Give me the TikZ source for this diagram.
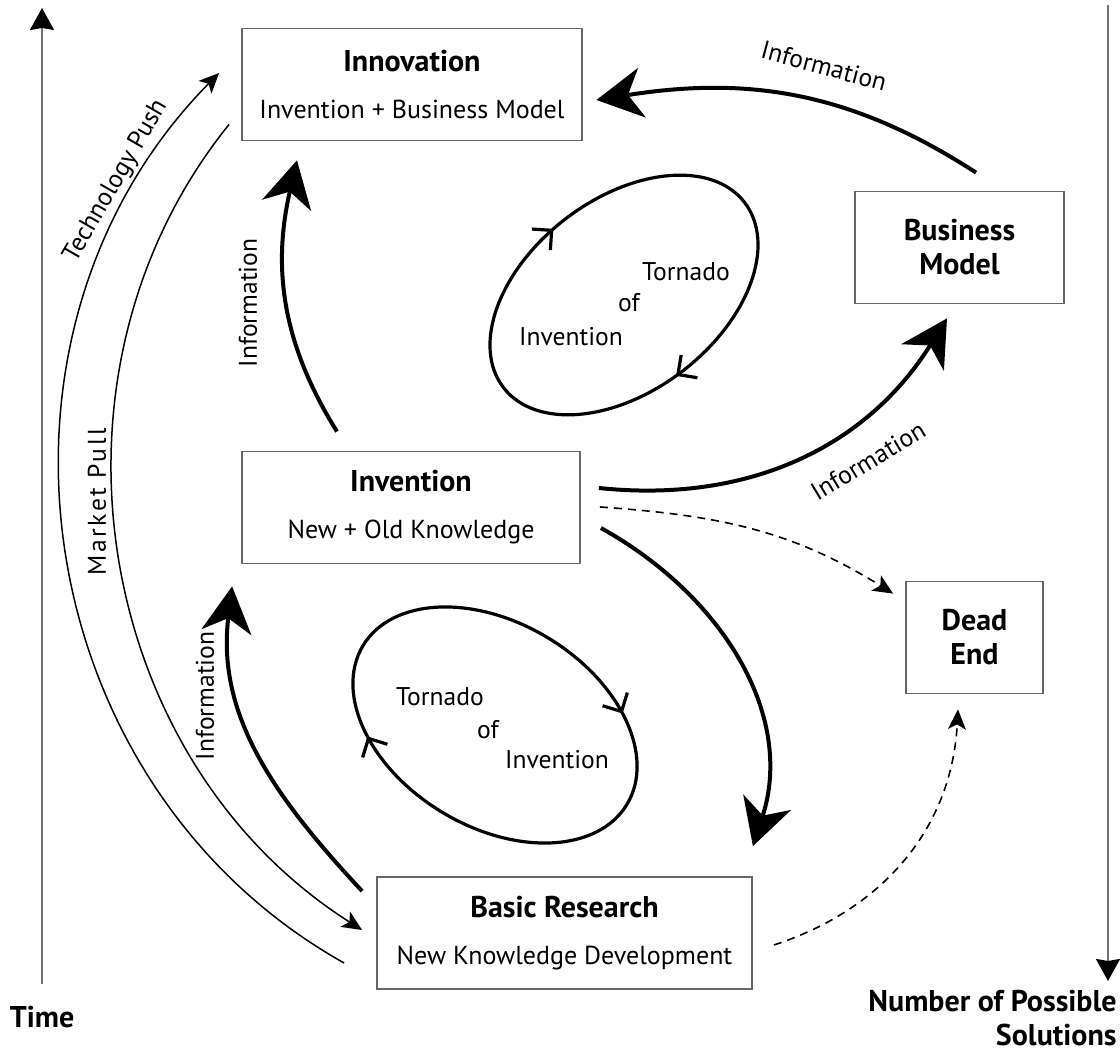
\documentclass[tikz,border=0pt]{standalone}
\usepackage{fontspec}
\setmainfont{PT Sans}
\usetikzlibrary{positioning,arrows.meta,calc,decorations.markings}

\begin{document}
\begin{tikzpicture}[
  x=0.5pt, y=0.5pt,
  every node/.style={font=\fontsize{12.8}{15}\selectfont, align=center, inner sep=0pt},
  stage/.style={draw=black!60, line width=0.9pt, fill=white, minimum height=56pt, font=\fontsize{13}{23.5}\selectfont},
  endbox/.style={draw=black!60, line width=0.9pt, fill=white, minimum height=56pt, font=\fontsize{15}{17}\selectfont\bfseries},
  heading/.style={font=\fontsize{15}{17}\selectfont\bfseries},
  info/.style={-{Stealth[length=23pt, width=25pt, inset=7pt]}, line width=2pt},
  force/.style={-{Stealth[length=10pt, width=9pt, inset=2.5pt]}, line width=0.75pt},
  deadarr/.style={-{Stealth[length=10pt, width=9pt, inset=2.5pt]}, line width=0.8pt, dash pattern=on 4pt off 3pt},
  axis/.style={-{Stealth[length=11pt, width=12pt, inset=1pt, black]}, draw=black!55, line width=1pt},
  tornado/.style={line width=1.6pt, postaction=decorate},
  barb/.tip={Straight Barb[length=7pt, width=14pt]}
]
\useasboundingbox (0,0) rectangle (1120,1054);

% boxes
\node[stage, minimum width=170pt] (innov) at (412,969.5) {{\bfseries\fontsize{15}{23.5}\selectfont Innovation}\\Invention + Business Model};
\node[endbox, minimum width=104.5pt] (bm) at (959.5,806.5) {Business\\Model};
\node[stage, minimum width=169pt] (invent) at (411,546.5) {{\bfseries\fontsize{15}{23.5}\selectfont Invention}\\New + Old Knowledge};
\node[endbox, minimum width=68.5pt] (dead) at (974.5,416.5) {Dead\\End};
\node[stage, minimum width=187.5pt] (basic) at (564.5,121) {{\bfseries\fontsize{15}{23.5}\selectfont Basic Research}\\New Knowledge Development};

% axes
\node[heading] (time) at (42,37) {Time};
\node[heading, align=right, anchor=north east] (count) at (1117,64) {Number of Possible\\Solutions};
\coordinate (tTop) at (42,1046);
\coordinate (nTop) at (1108,1049);
\draw[axis] ($(time.north)+(0,22)$) -- (tTop);
\draw[axis] (nTop) -- (nTop |- {$(count.north)+(0,9)$});

% push and pull
\draw[force] ($(basic.west)+(-32,-30)$) to[out=150.7, in=225.4, looseness=1.04] ($(innov.west)+(-22,11.5)$);
\draw[force] ($(innov.south west)+(-12,17)$) to[out=231.1, in=147.6] ($(basic.west)+(-14,3)$);
\node[rotate=60] (push) at (116,873) {Technology Push};
\node[rotate=90] (pull) at (97,552) {\addfontfeatures{LetterSpace=10}Market Pull};

% information flows
\draw[info] ($(invent.north)+(-74,19)$) to[out=122, in=257] ($(innov.south)+(-115,-19)$);
\draw[info] ($(basic.north west)+(-14,-15)$) to[out=133, in=263] ($(invent.south west)+(-9,-22)$);
\draw[info] ($(invent.east)+(18,19.5)$) to[out=-6, in=238] ($(bm.south)+(-12.5,-14)$);
\draw[info] ($(invent.east)+(20,-20.5)$) to[out=-29, in=72] ($(basic.north east)+(0,30)$);
\draw[info] ($(bm.north)+(16.5,18)$) to[out=147, in=9] ($(innov.east)+(13.5,-15.5)$);
\node[rotate=90] (infoA) at (248,751) {Information};
\node[rotate=90] (infoB) at (205,358) {Information};
\node[rotate=-15] (infoC) at (824,988) {Information};
\node[rotate=31] (infoD) at (868,593) {Information};

% dead ends
\draw[deadarr] ($(invent.east)+(19,0.5)$) to[out=-4, in=148] ($(dead.north west)+(-12,-13)$);
\draw[deadarr] ($(basic.east)+(21,-12)$) to[out=18, in=267] ($(dead.south)+(-16.5,-15)$);

% tornadoes
\coordinate (twistA) at (624,759);
\coordinate (twistB) at (495,329);
\draw[tornado, rotate around={37.5:(twistA)}, decoration={markings,
    mark=at position 0.27 with {\arrowreversed{barb}},
    mark=at position 0.74 with {\arrowreversed{barb}}}]
  (twistA) ellipse[x radius=152, y radius=96];
\draw[tornado, rotate around={-31:(twistB)}, decoration={markings,
    mark=at position 0.117 with {\arrowreversed{barb}},
    mark=at position 0.617 with {\arrowreversed{barb}}}]
  (twistB) ellipse[x radius=154, y radius=102];
\node (tornA1) at (686,782) {Tornado};
\node (tornA2) at (629,751) {of};
\node (tornA3) at (571,717) {Invention};
\node (tornB1) at (440,357) {Tornado};
\node (tornB2) at (488,324) {of};
\node (tornB3) at (557,294) {Invention};
\end{tikzpicture}
\end{document}
